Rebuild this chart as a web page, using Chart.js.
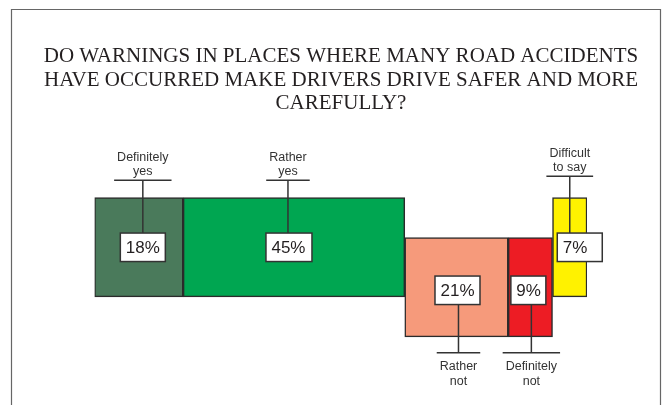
<!DOCTYPE html>
<html>
<head>
<meta charset="utf-8">
<script src="https://cdn.jsdelivr.net/npm/chart.js@4"></script>
<style>
  html, body { margin: 0; padding: 0; background: #fff; overflow: hidden; }
</style>
</head>
<body>
<canvas id="warningsChart" width="670" height="405"></canvas>
<script>
const titleLines = ['DO WARNINGS IN PLACES WHERE MANY ROAD ACCIDENTS',
                    'HAVE OCCURRED MAKE DRIVERS DRIVE SAFER AND MORE',
                    'CAREFULLY?']
const categories = [['Definitely', 'yes'], ['Rather', 'yes'], ['Rather', 'not'], ['Definitely', 'not'], ['Difficult', 'to say']]
const shares = [18, 45, 21, 9, 7]
const sides = ['top', 'top', 'bottom', 'bottom', 'top']
const colors = ['#4A7A5B', '#00A651', '#F69A7B', '#ED1C24', '#FFF200']

// each answer sits after the previous one on a 0..100 strip
let running = 0
const segments = shares.map((v, i) => {
    const seg = { x: [running, running + v], y: sides[i] === 'top' ? 1 : 0 }
    running += v
    return seg
})

const frame = {
    id: 'frame',
    beforeDraw(chart) {
        const ctx = chart.ctx
        ctx.save()
        ctx.fillStyle = '#fff'
        ctx.fillRect(0, 0, chart.width, chart.height)
        ctx.strokeStyle = '#666'
        ctx.lineWidth = 1.2
        ctx.beginPath()
        ctx.moveTo(11.5, chart.height + 2)
        ctx.lineTo(11.5, 9.5)
        ctx.lineTo(660.5, 9.5)
        ctx.lineTo(660.5, chart.height + 2)
        ctx.stroke()

        // heading, drawn by hand so it is not squeezed into the plot width
        ctx.fillStyle = '#231f20'
        ctx.font = '21px "Liberation Serif", "Times New Roman", serif'
        ctx.textAlign = 'center'
        ctx.textBaseline = 'alphabetic'
        titleLines.forEach((t, i) => ctx.fillText(t, 341, 62 + i * 23.5))
        ctx.restore()
    }
}

const callouts = {
    id: 'callouts',
    afterDatasetsDraw(chart, args, opts) {
        const ctx = chart.ctx
        const meta = chart.getDatasetMeta(0)
        ctx.save()
        meta.data.forEach((bar, i) => {
            const p = bar.getProps(['x', 'y', 'base', 'height'], true)
            const isTop = sides[i] === 'top'
            const lx = (p.x + p.base) / 2 + opts.shift[i]
            const barTop = p.y - p.height / 2
            const barBottom = p.y + p.height / 2

            // value box
            const bw = opts.boxW[i], bh = 28.5
            const bx = lx + opts.boxShift[i] - bw / 2
            const by = p.y + (isTop ? 0 : 3) - bh / 2

            // category label with underline
            ctx.font = '12.5px "Liberation Sans", Arial, sans-serif'
            const tw = Math.max(...categories[i].map(t => ctx.measureText(t).width))
            const lineY = isTop ? barTop - 17.5 - opts.lift[i] : barBottom + 15.7

            ctx.strokeStyle = '#333'
            ctx.lineWidth = 1.5
            ctx.beginPath()
            ctx.moveTo(lx - tw / 2 - 3, lineY)
            ctx.lineTo(lx + tw / 2 + 3, lineY)
            ctx.moveTo(lx, lineY)
            ctx.lineTo(lx, isTop ? by : by + bh)
            ctx.stroke()

            ctx.fillStyle = '#333'
            ctx.textAlign = 'center'
            ctx.textBaseline = 'alphabetic'
            if (isTop) {
                ctx.fillText(categories[i][0], lx, lineY - 5 - 14.5)
                ctx.fillText(categories[i][1], lx, lineY - 5)
            } else {
                ctx.fillText(categories[i][0], lx, lineY + 17.5)
                ctx.fillText(categories[i][1], lx, lineY + 32)
            }

            ctx.fillStyle = '#fff'
            ctx.fillRect(bx, by, bw, bh)
            ctx.strokeStyle = '#333'
            ctx.lineWidth = 1.5
            ctx.strokeRect(bx, by, bw, bh)

            ctx.fillStyle = '#231f20'
            ctx.font = '17px "Liberation Sans", Arial, sans-serif'
            ctx.textAlign = 'left'
            ctx.textBaseline = 'middle'
            ctx.fillText(shares[i] + '%', bx + 5.5, by + bh / 2 + 1)
        })
        ctx.restore()
    }
}

new Chart(document.getElementById('warningsChart'), {
    type: 'bar',
    data: {
        datasets: [{
            data: segments,
            backgroundColor: colors,
            borderColor: '#2b2b2b',
            borderWidth: 1.5,
            borderSkipped: false,
            barThickness: 99.3
        }]
    },
    options: {
        responsive: false,
        animation: false,
        indexAxis: 'y',
        layout: { padding: { left: 94.5, right: 83, top: 127.3, bottom: 37.7 } },
        scales: {
            x: { type: 'linear', min: 0, max: 100, display: false },
            y: { type: 'linear', min: -2, max: 4, offset: false, display: false }
        },
        plugins: {
            legend: { display: false },
            tooltip: { enabled: false },
            callouts: {
                shift: [4, -6, 2, 1, 0],
                boxShift: [0, 1, -1, -3, 10],
                boxW: [45, 46, 45, 35, 45],
                lift: [0, 0, 0, 0, 4]
            }
        }
    },
    plugins: [frame, callouts]
})
</script>
</body>
</html>
